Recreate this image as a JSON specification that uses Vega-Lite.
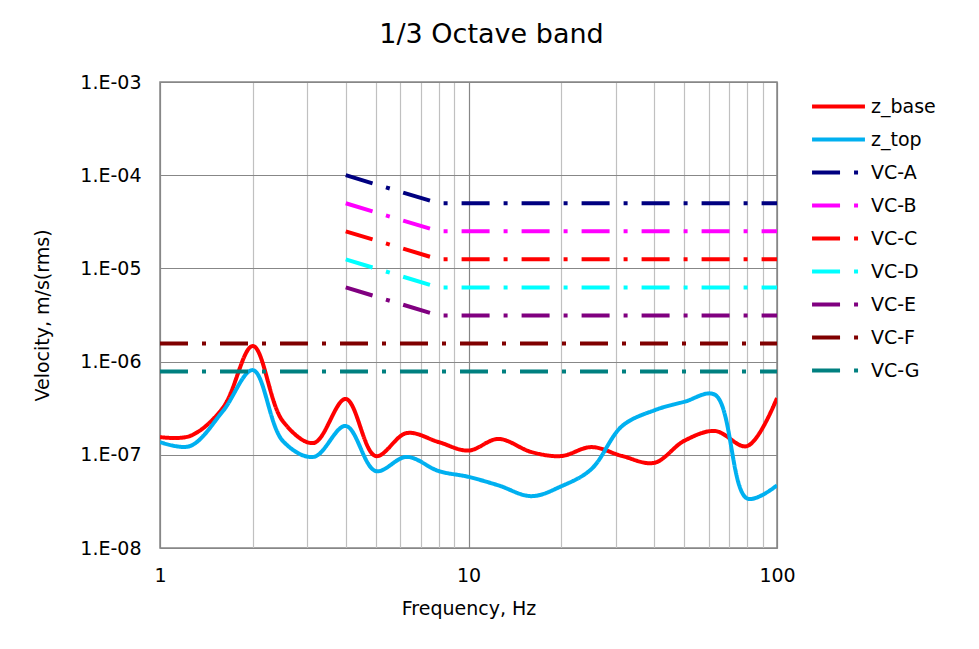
{
  "$schema": "https://vega.github.io/schema/vega-lite/v6.json",
  "description": "1/3 octave band velocity spectra against VC vibration criteria, log-log.",
  "autosize": "none",
  "padding": {"left": 160, "top": 82, "right": 202, "bottom": 101},
  "width": 617,
  "height": 466,
  "background": "white",
  "title": {
    "text": "1/3 Octave band",
    "font": "DejaVu Sans",
    "fontSize": 27,
    "fontWeight": "normal",
    "color": "black",
    "dx": 23,
    "offset": 24
  },
  "datasets": {
    "spectra": [
      {"series": "z_base", "f": 1, "v": 1.55e-7},
      {"series": "z_base", "f": 1.25, "v": 1.59e-7},
      {"series": "z_base", "f": 1.6, "v": 3.2e-7},
      {"series": "z_base", "f": 2, "v": 1.47e-6},
      {"series": "z_base", "f": 2.5, "v": 2.3e-7},
      {"series": "z_base", "f": 3.15, "v": 1.34e-7},
      {"series": "z_base", "f": 4, "v": 3.97e-7},
      {"series": "z_base", "f": 5, "v": 9.7e-8},
      {"series": "z_base", "f": 6.3, "v": 1.71e-7},
      {"series": "z_base", "f": 8, "v": 1.37e-7},
      {"series": "z_base", "f": 10, "v": 1.11e-7},
      {"series": "z_base", "f": 12.5, "v": 1.48e-7},
      {"series": "z_base", "f": 16, "v": 1.07e-7},
      {"series": "z_base", "f": 20, "v": 9.7e-8},
      {"series": "z_base", "f": 25, "v": 1.21e-7},
      {"series": "z_base", "f": 31.5, "v": 9.7e-8},
      {"series": "z_base", "f": 40, "v": 8.2e-8},
      {"series": "z_base", "f": 50, "v": 1.41e-7},
      {"series": "z_base", "f": 63, "v": 1.8e-7},
      {"series": "z_base", "f": 80, "v": 1.24e-7},
      {"series": "z_base", "f": 100, "v": 4.07e-7},
      {"series": "z_top", "f": 1, "v": 1.37e-7},
      {"series": "z_top", "f": 1.25, "v": 1.24e-7},
      {"series": "z_top", "f": 1.6, "v": 2.95e-7},
      {"series": "z_top", "f": 2, "v": 8.1e-7},
      {"series": "z_top", "f": 2.5, "v": 1.41e-7},
      {"series": "z_top", "f": 3.15, "v": 9.5e-8},
      {"series": "z_top", "f": 4, "v": 2.04e-7},
      {"series": "z_top", "f": 5, "v": 6.7e-8},
      {"series": "z_top", "f": 6.3, "v": 9.5e-8},
      {"series": "z_top", "f": 8, "v": 6.7e-8},
      {"series": "z_top", "f": 10, "v": 5.8e-8},
      {"series": "z_top", "f": 12.5, "v": 4.7e-8},
      {"series": "z_top", "f": 16, "v": 3.6e-8},
      {"series": "z_top", "f": 20, "v": 4.6e-8},
      {"series": "z_top", "f": 25, "v": 7.0e-8},
      {"series": "z_top", "f": 31.5, "v": 2.04e-7},
      {"series": "z_top", "f": 40, "v": 3.0e-7},
      {"series": "z_top", "f": 50, "v": 3.7e-7},
      {"series": "z_top", "f": 63, "v": 4.4e-7},
      {"series": "z_top", "f": 80, "v": 3.4e-8},
      {"series": "z_top", "f": 100, "v": 4.7e-8}
    ],
    "criteria": [
      {"series": "VC-A", "f": 4, "v": 1e-4},
      {"series": "VC-A", "f": 8, "v": 5e-5},
      {"series": "VC-A", "f": 100, "v": 5e-5},
      {"series": "VC-B", "f": 4, "v": 5e-5},
      {"series": "VC-B", "f": 8, "v": 2.5e-5},
      {"series": "VC-B", "f": 100, "v": 2.5e-5},
      {"series": "VC-C", "f": 4, "v": 2.5e-5},
      {"series": "VC-C", "f": 8, "v": 1.25e-5},
      {"series": "VC-C", "f": 100, "v": 1.25e-5},
      {"series": "VC-D", "f": 4, "v": 1.25e-5},
      {"series": "VC-D", "f": 8, "v": 6.25e-6},
      {"series": "VC-D", "f": 100, "v": 6.25e-6},
      {"series": "VC-E", "f": 4, "v": 6.25e-6},
      {"series": "VC-E", "f": 8, "v": 3.125e-6},
      {"series": "VC-E", "f": 100, "v": 3.125e-6},
      {"series": "VC-F", "f": 1, "v": 1.5625e-6},
      {"series": "VC-F", "f": 100, "v": 1.5625e-6},
      {"series": "VC-G", "f": 1, "v": 7.8125e-7},
      {"series": "VC-G", "f": 100, "v": 7.8125e-7}
    ]
  },
  "encoding": {
    "x": {
      "field": "f",
      "type": "quantitative",
      "title": "Frequency, Hz",
      "scale": {"type": "log", "domain": [1, 100], "nice": false},
      "axis": {
        "values": [1, 2, 3, 4, 5, 6, 7, 8, 9, 10, 20, 30, 40, 50, 60, 70, 80, 90, 100],
        "labelExpr": "datum.value == 1 || datum.value == 10 || datum.value == 100 ? datum.value + '' : ''",
        "labelOverlap": false,
        "labelFlush": false,
        "labelPadding": 18,
        "titlePadding": 14,
        "gridColor": {
          "condition": {"test": "datum.value == 1 || datum.value == 10 || datum.value == 100", "value": "#878787"},
          "value": "#c0c0c0"
        }
      }
    },
    "y": {
      "field": "v",
      "type": "quantitative",
      "title": "Velocity, m/s(rms)",
      "scale": {"type": "log", "domain": [1e-8, 1e-3], "nice": false},
      "axis": {
        "values": [1e-8, 1e-7, 1e-6, 1e-5, 1e-4, 1e-3],
        "labelExpr": "'1.E-0' + round(-log(datum.value) / LN10)",
        "labelFlush": false,
        "labelPadding": 19,
        "titlePadding": 27,
        "gridColor": "#878787"
      }
    },
    "color": {
      "field": "series",
      "type": "nominal",
      "title": null,
      "scale": {
        "domain": ["z_base", "z_top", "VC-A", "VC-B", "VC-C", "VC-D", "VC-E", "VC-F", "VC-G"],
        "range": ["#ff0000", "#00b0f0", "#000080", "#ff00ff", "#ff0000", "#00ffff", "#800080", "#800000", "#008080"]
      }
    },
    "strokeDash": {
      "field": "series",
      "type": "nominal",
      "title": null,
      "scale": {
        "domain": ["z_base", "z_top", "VC-A", "VC-B", "VC-C", "VC-D", "VC-E", "VC-F", "VC-G"],
        "range": [[1, 0], [1, 0], [28, 14, 4, 14], [28, 14, 4, 14], [28, 14, 4, 14], [28, 14, 4, 14], [28, 14, 4, 14], [28, 14, 4, 14], [28, 14, 4, 14]]
      }
    }
  },
  "layer": [
    {
      "data": {"name": "spectra"},
      "mark": {"type": "line", "interpolate": "catmull-rom", "strokeWidth": 4, "clip": true}
    },
    {
      "data": {"name": "criteria"},
      "mark": {"type": "line", "strokeWidth": 4, "clip": true}
    }
  ],
  "config": {
    "font": "DejaVu Sans",
    "view": {"stroke": "#878787", "strokeWidth": 1.5},
    "axis": {
      "domain": false,
      "ticks": false,
      "labelFont": "DejaVu Sans",
      "labelFontSize": 19,
      "labelColor": "black",
      "titleFont": "DejaVu Sans",
      "titleFontSize": 19,
      "titleFontWeight": "normal",
      "titleColor": "black",
      "gridWidth": 1.2,
      "gridOpacity": 1
    },
    "legend": {
      "orient": "none",
      "legendX": 650,
      "legendY": 8,
      "padding": 0,
      "symbolType": "stroke",
      "symbolSize": 2800,
      "symbolStrokeWidth": 4,
      "labelFont": "DejaVu Sans",
      "labelFontSize": 19,
      "labelColor": "black",
      "labelOffset": 4,
      "rowPadding": 0,
      "clipHeight": 33
    }
  }
}
